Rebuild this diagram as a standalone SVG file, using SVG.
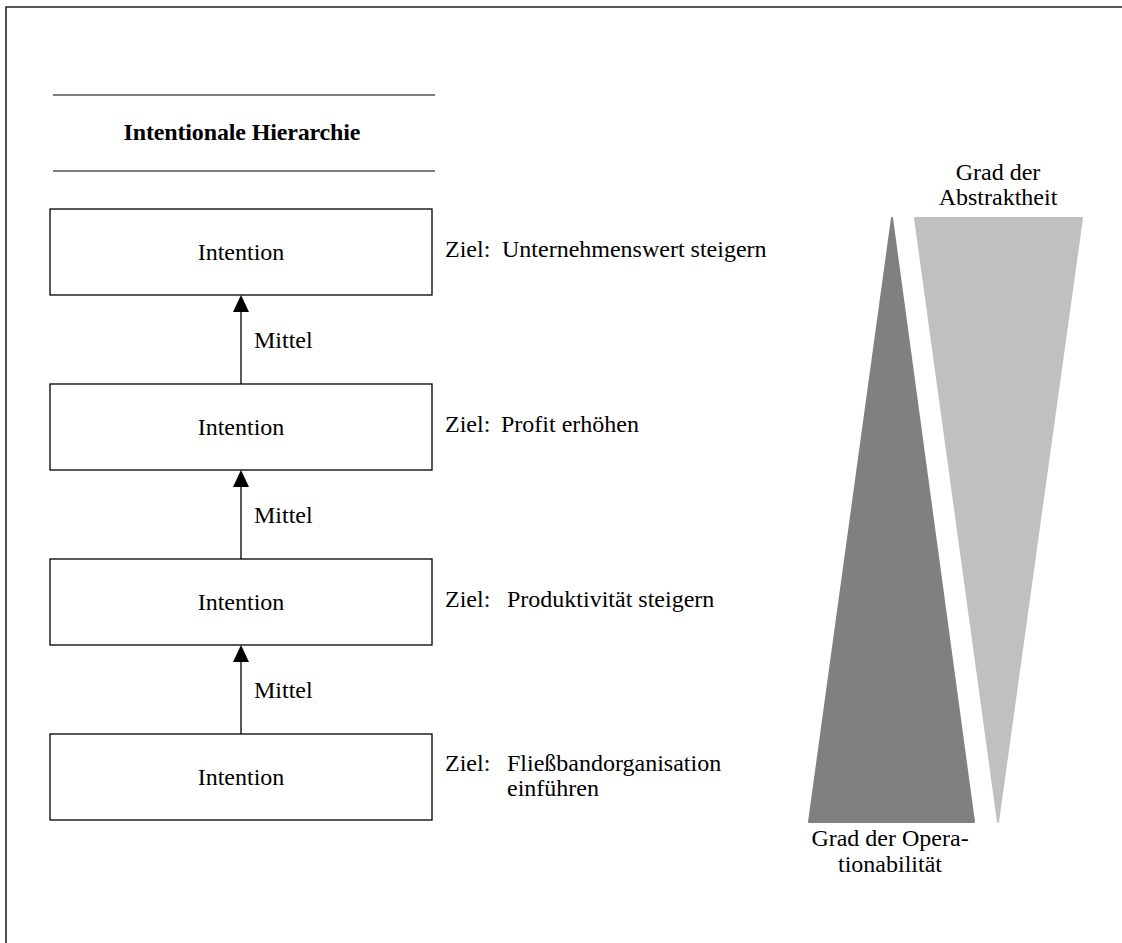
<svg xmlns="http://www.w3.org/2000/svg" width="1122" height="943" viewBox="0 0 1122 943">
<defs>
<style>
text{font-family:"Liberation Serif","Times New Roman",serif;font-size:24px;fill:#000}
.b{font-weight:bold}
.box{fill:#fff;stroke:#000;stroke-width:1.3}
.rule{stroke:#000;stroke-width:1.2}
.conn{stroke:#000;stroke-width:1.3;fill:none}
</style>
</defs>
<rect width="1122" height="943" fill="#fff"/>
<path d="M6,943 V7 H1122" fill="none" stroke="#222" stroke-width="1.6"/>
<g id="title">
<line class="rule" x1="53" y1="95" x2="435" y2="95"/>
<line class="rule" x1="53" y1="171" x2="435" y2="171"/>
<text class="b" x="242" y="140" text-anchor="middle" textLength="237">Intentionale Hierarchie</text>
</g>
<g id="connectors">
<line class="conn" x1="241" y1="384" x2="241" y2="312"/>
<path d="M241,295 L233,312 L249,312 Z" fill="#000"/>
<text x="254" y="348">Mittel</text>
<line class="conn" x1="241" y1="559" x2="241" y2="487"/>
<path d="M241,470 L233,487 L249,487 Z" fill="#000"/>
<text x="254" y="523">Mittel</text>
<line class="conn" x1="241" y1="734" x2="241" y2="662"/>
<path d="M241,645 L233,662 L249,662 Z" fill="#000"/>
<text x="254" y="698">Mittel</text>
</g>
<g id="node1">
<rect class="box" x="50" y="209" width="382" height="86"/>
<text x="241" y="260" text-anchor="middle">Intention</text>
<text x="445" y="257">Ziel:</text>
<text x="502" y="257">Unternehmenswert steigern</text>
</g>
<g id="node2">
<rect class="box" x="50" y="384" width="382" height="86"/>
<text x="241" y="435" text-anchor="middle">Intention</text>
<text x="445" y="432">Ziel:</text>
<text x="501" y="432">Profit erhöhen</text>
</g>
<g id="node3">
<rect class="box" x="50" y="559" width="382" height="86"/>
<text x="241" y="610" text-anchor="middle">Intention</text>
<text x="445" y="607">Ziel:</text>
<text x="507" y="607">Produktivität steigern</text>
</g>
<g id="node4">
<rect class="box" x="50" y="734" width="382" height="86"/>
<text x="241" y="785" text-anchor="middle">Intention</text>
<text x="445" y="771">Ziel:</text>
<text x="507" y="771">Fließbandorganisation</text>
<text x="507" y="796">einführen</text>
</g>
<g id="operationability">
<path d="M892,218 L974,822 L809,822 Z" fill="#808080" stroke="#808080" stroke-width="2" stroke-linejoin="round"/>
<text x="890" y="846" text-anchor="middle">Grad der Opera-</text>
<text x="890" y="872" text-anchor="middle">tionabilität</text>
</g>
<g id="abstractness">
<path d="M915,218 L1082,218 L998,822 Z" fill="#c0c0c0" stroke="#c0c0c0" stroke-width="2" stroke-linejoin="round"/>
<text x="998" y="180" text-anchor="middle">Grad der</text>
<text x="998" y="205" text-anchor="middle">Abstraktheit</text>
</g>
</svg>
